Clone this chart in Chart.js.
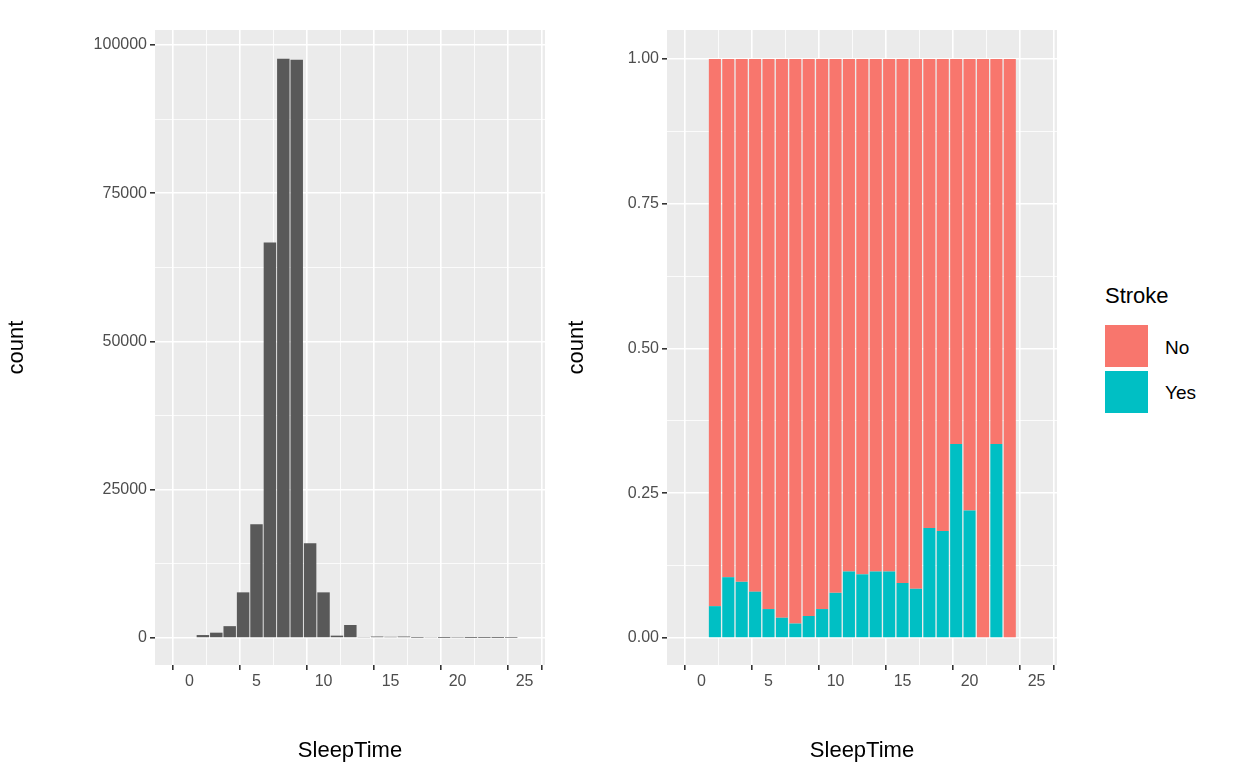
<!DOCTYPE html>
<html><head>
<script src="https://cdn.jsdelivr.net/npm/chart.js@4"></script>
<style>
body{margin:0;width:1248px;height:768px;background:#fff;font-family:"Liberation Sans",Arial,sans-serif;position:relative;overflow:hidden}
canvas{position:absolute;top:0}
.lg{position:absolute;font-size:19px;color:#000}
.sw{position:absolute;width:43px;height:42px}
</style>
</head><body>
<canvas id="left" style="left:0" width="560" height="768"></canvas>
<canvas id="right" style="left:560px" width="510" height="768"></canvas>
<div class="lg" style="left:1105px;top:283px;font-size:22px">Stroke</div>
<div class="sw" style="left:1105px;top:325px;background:#f8766d"></div>
<div class="sw" style="left:1105px;top:371px;background:#00bfc4"></div>
<div class="lg" style="left:1165px;top:337px">No</div>
<div class="lg" style="left:1165px;top:382px">Yes</div>
<script>
const sleepHours = [1,2,3,4,5,6,7,8,9,10,11,12,13,14,15,16,17,18,19,20,21,22,23,24];
const sleepCounts = [500,900,2000,7700,19200,66700,97700,97500,16000,7700,400,2200,100,250,200,250,30,100,10,70,5,10,5,30];
const strokeHours = [1,2,3,4,5,6,7,8,9,10,11,12,13,14,15,16,17,18,19,20,21,22,23];
const strokeYes = [0.055,0.105,0.097,0.08,0.05,0.035,0.025,0.038,0.05,0.078,0.115,0.11,0.115,0.115,0.095,0.085,0.19,0.185,0.335,0.22,0,0.335,0];
const strokeNo = strokeYes.map(v => 1 - v);

const bgPlugin = {
  id: 'bg',
  beforeDraw(chart) {
    const a = chart.chartArea, c = chart.ctx;
    c.save(); c.fillStyle = '#ebebeb';
    c.fillRect(a.left, a.top, a.right - a.left, a.bottom - a.top);
    c.restore();
  }
};

function axes(yMin, yMax, yStep, yMajor, yWidth, fmt) {
  const isMajor = (v, m) => Math.abs(v / m - Math.round(v / m)) < 1e-6;
  const tv = c => (c.tick ? c.tick.value : 0);
  return {
    x: {
      type: 'linear', min: -1.25, max: 25.2, stacked: true,
      afterBuildTicks: s => { s.ticks = []; for (let v = 0; v <= 25; v += 2.5) s.ticks.push({value: v}); },
      afterFit: s => { s.height = 103; },
      border: {display: false},
      grid: {color: '#fff', lineWidth: c => isMajor(tv(c), 5) ? 1.6 : 0.8,
             tickColor: c => isMajor(tv(c), 5) ? '#333' : 'rgba(0,0,0,0)', tickLength: 5},
      ticks: {color: '#4d4d4d', font: {size: 16}, padding: 2, autoSkip: false, maxRotation: 0,
              callback: v => isMajor(v, 5) ? v : ''},
      title: {display: true, text: 'SleepTime', color: '#000', font: {size: 22}, padding: {top: 2}}
    },
    y: {
      min: yMin, max: yMax, stacked: true,
      afterBuildTicks: s => { s.ticks = []; for (let v = 0; v <= yMax; v += yStep) s.ticks.push({value: v}); },
      afterFit: s => { s.width = yWidth; },
      border: {display: false},
      grid: {color: '#fff', lineWidth: c => isMajor(tv(c), yMajor) ? 1.6 : 0.8,
             tickColor: c => isMajor(tv(c), yMajor) ? '#333' : 'rgba(0,0,0,0)', tickLength: 5},
      ticks: {color: '#4d4d4d', font: {size: 16}, padding: 3, autoSkip: false,
              callback: v => isMajor(v, yMajor) ? fmt(v) : ''},
      title: {display: true, text: 'count', color: '#000', font: {size: 22}, padding: {bottom: 4}}
    }
  };
}

new Chart(document.getElementById('left'), {
  type: 'bar',
  data: {datasets: [{data: sleepHours.map((h, i) => ({x: h, y: sleepCounts[i]})),
    backgroundColor: '#595959', barPercentage: 1, categoryPercentage: 0.93}]},
  options: {
    responsive: false, animation: false,
    layout: {padding: {top: 30, right: 15}},
    plugins: {legend: {display: false}, tooltip: {enabled: false}},
    scales: axes(-4550, 102530, 12500, 25000, 155, v => String(v))
  },
  plugins: [bgPlugin]
});

new Chart(document.getElementById('right'), {
  type: 'bar',
  data: {datasets: [
    {label: 'Yes', data: strokeHours.map((h, i) => ({x: h, y: strokeYes[i]})),
     backgroundColor: '#00bfc4', barPercentage: 1, categoryPercentage: 0.9},
    {label: 'No', data: strokeHours.map((h, i) => ({x: h, y: strokeNo[i]})),
     backgroundColor: '#f8766d', barPercentage: 1, categoryPercentage: 0.9}
  ]},
  options: {
    responsive: false, animation: false,
    layout: {padding: {top: 30, right: 13}},
    plugins: {legend: {display: false}, tooltip: {enabled: false}},
    scales: axes(-0.0466, 1.05, 0.125, 0.25, 107, v => v.toFixed(2))
  },
  plugins: [bgPlugin]
});
</script>
</body></html>
